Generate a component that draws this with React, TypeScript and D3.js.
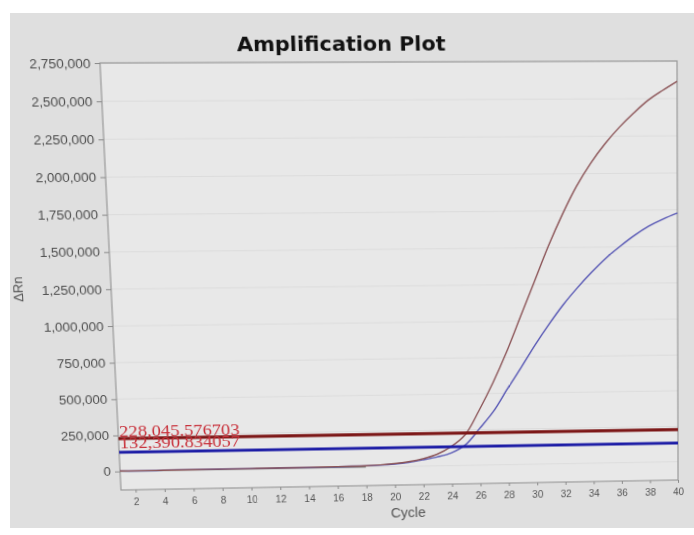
import React, { useEffect, useRef } from "react";
import * as d3 from "d3";

const cycles = [
  1, 2, 3, 4, 5, 6, 7, 8, 9, 10, 11, 12, 13, 14, 15, 16, 17, 18, 19, 20,
  21, 22, 23, 24, 25, 26, 27, 28, 29, 30, 31, 32, 33, 34, 35, 36, 37, 38, 39, 40,
];

// well 1 (red trace)
const redRn = [
  3000, 2000, 2000, 2500, 3000, 3000, 3500, 3500, 4000, 4000,
  4500, 5000, 5000, 5500, 6000, 7000, 8000, 10000, 14000, 21000,
  33000, 52000, 82000, 135000, 217000, 385000, 575000, 790000, 1030000, 1270000,
  1510000, 1725000, 1915000, 2070000, 2200000, 2310000, 2405000, 2490000, 2555000, 2615000,
];

// well 2 (blue trace)
const blueRn = [
  2000, 1500, 1500, 2000, 2500, 2500, 3000, 3000, 3500, 3500,
  4000, 4500, 4500, 5000, 5500, 6500, 7500, 9000, 12000, 18000,
  28000, 44000, 63000, 90000, 145000, 256000, 375000, 530000, 680000, 835000,
  978000, 1110000, 1225000, 1330000, 1425000, 1505000, 1578000, 1640000, 1688000, 1728000,
];

const thresholds = [228045.576703, 132390.834057];
const thresholdLabels = ["228,045.576703", "132,390.834057"];

const yTicks = [0, 250000, 500000, 750000, 1000000, 1250000, 1500000, 1750000, 2000000, 2250000, 2500000, 2750000];
const xTicks = [2, 4, 6, 8, 10, 12, 14, 16, 18, 20, 22, 24, 26, 28, 30, 32, 34, 36, 38, 40];

// photo of a monitor: the flat plot rectangle is warped onto this quad
function homography(src: number[][], dst: number[][]) {
  const A: number[][] = [];
  const b: number[] = [];
  for (let i = 0; i < 4; i++) {
    const [x, y] = src[i];
    const [u, v] = dst[i];
    A.push([x, y, 1, 0, 0, 0, -x * u, -y * u]);
    b.push(u);
    A.push([0, 0, 0, x, y, 1, -x * v, -y * v]);
    b.push(v);
  }
  const n = 8;
  for (let c = 0; c < n; c++) {
    let p = c;
    for (let r = c + 1; r < n; r++) if (Math.abs(A[r][c]) > Math.abs(A[p][c])) p = r;
    [A[c], A[p]] = [A[p], A[c]];
    [b[c], b[p]] = [b[p], b[c]];
    for (let r = 0; r < n; r++) {
      if (r === c) continue;
      const f = A[r][c] / A[c][c];
      for (let k = c; k < n; k++) A[r][k] -= f * A[c][k];
      b[r] -= f * b[c];
    }
  }
  const h = b.map((v, i) => v / A[i][i]);
  const [a, bb, c, d, e, f, g, hh] = h;
  return `matrix3d(${a},${d},0,${g},${bb},${e},0,${hh},0,0,1,0,${c},${f},0,1)`;
}

const App = () => {
  const svgRef = useRef<SVGSVGElement | null>(null);

  const width = 694;
  const height = 535;
  const margin = { top: 62, right: 16, bottom: 45, left: 121 };
  const pw = width - margin.left - margin.right;
  const ph = height - margin.top - margin.bottom;

  const warp = homography(
    [
      [margin.left, margin.top],
      [margin.left + pw, margin.top],
      [margin.left, margin.top + ph],
      [margin.left + pw, margin.top + ph],
    ],
    [
      [100, 63],
      [677, 61],
      [121, 490],
      [678, 480],
    ]
  );

  useEffect(() => {
    const svg = d3.select(svgRef.current);
    svg.selectAll("*").remove();

    const x = d3.scaleLinear().domain([1, 40]).range([margin.left, margin.left + pw]);
    const y = d3.scaleLinear().domain([-130000, 2750000]).range([margin.top + ph, margin.top]);

    // plot background
    svg.append("rect")
      .attr("x", margin.left)
      .attr("y", margin.top)
      .attr("width", pw)
      .attr("height", ph)
      .attr("fill", "#e8e8e8");

    // faint grid
    svg.append("g")
      .selectAll("line")
      .data(yTicks)
      .enter()
      .append("line")
      .attr("x1", margin.left)
      .attr("x2", margin.left + pw)
      .attr("y1", (d) => y(d))
      .attr("y2", (d) => y(d))
      .attr("stroke", "#dcdcdc")
      .attr("stroke-width", 1);

    // frame
    svg.append("rect")
      .attr("x", margin.left)
      .attr("y", margin.top)
      .attr("width", pw)
      .attr("height", ph)
      .attr("fill", "none")
      .attr("stroke", "#9a9a9a")
      .attr("stroke-width", 1.2);

    // y axis
    const yAxis = svg.append("g")
      .attr("transform", `translate(${margin.left},0)`)
      .call(d3.axisLeft(y).tickValues(yTicks).tickFormat(d3.format(",")).tickSize(5).tickPadding(4));
    yAxis.select(".domain").remove();
    yAxis.selectAll("line").attr("stroke", "#8a8a8a");
    yAxis.selectAll("text")
      .attr("font-family", "Liberation Sans, Arial, sans-serif")
      .attr("font-size", 13)
      .attr("fill", "#4e4e4e");

    // x axis
    const xAxis = svg.append("g")
      .attr("transform", `translate(0,${margin.top + ph})`)
      .call(d3.axisBottom(x).tickValues(xTicks).tickSize(3).tickPadding(6));
    xAxis.select(".domain").remove();
    xAxis.selectAll("line").attr("stroke", "#8a8a8a");
    xAxis.selectAll("text")
      .attr("font-family", "Liberation Sans, Arial, sans-serif")
      .attr("font-size", 10)
      .attr("fill", "#555");

    // baseline at zero
    svg.append("line")
      .attr("x1", margin.left)
      .attr("x2", x(18))
      .attr("y1", y(0))
      .attr("y2", y(0))
      .attr("stroke", "#6a6a6a")
      .attr("stroke-width", 1);

    const line = (vals: number[]) =>
      d3.line<number>()
        .x((_, i) => x(cycles[i]))
        .y((d) => y(d))
        .curve(d3.curveCatmullRom.alpha(0.5))(vals);

    svg.append("path")
      .attr("d", line(blueRn))
      .attr("fill", "none")
      .attr("stroke", "#5656b4")
      .attr("stroke-width", 1.4);

    svg.append("path")
      .attr("d", line(redRn))
      .attr("fill", "none")
      .attr("stroke", "#8c5558")
      .attr("stroke-width", 1.4);

    // threshold lines
    const thColors = ["#7c1717", "#1d1da6"];
    thresholds.forEach((t, i) => {
      svg.append("line")
        .attr("x1", margin.left)
        .attr("x2", margin.left + pw)
        .attr("y1", y(t))
        .attr("y2", y(t))
        .attr("stroke", thColors[i])
        .attr("stroke-width", 3.2);
    });

    thresholdLabels.forEach((t, i) => {
      svg.append("text")
        .attr("x", margin.left + 1)
        .attr("y", y(thresholds[i]) - (i === 0 ? 2 : 4))
        .attr("font-family", "Liberation Serif, Times New Roman, serif")
        .attr("font-size", 16)
        .attr("textLength", 118)
        .attr("lengthAdjust", "spacingAndGlyphs")
        .attr("fill", "#c8303a")
        .text(t);
    });

    // title & labels
    svg.append("text")
      .attr("x", 352)
      .attr("y", 51)
      .attr("text-anchor", "middle")
      .attr("font-family", "DejaVu Sans, Verdana, sans-serif")
      .attr("font-weight", "bold")
      .attr("font-size", 20)
      .attr("fill", "#111")
      .text("Amplification Plot");

    svg.append("text")
      .attr("transform", `translate(36,${margin.top + ph / 2 + 8}) rotate(-90)`)
      .attr("text-anchor", "middle")
      .attr("font-family", "Liberation Sans, Arial, sans-serif")
      .attr("font-size", 13)
      .attr("fill", "#555")
      .text("ΔRn");

    svg.append("text")
      .attr("x", 405)
      .attr("y", 524)
      .attr("text-anchor", "middle")
      .attr("font-family", "Liberation Sans, Arial, sans-serif")
      .attr("font-size", 14)
      .attr("fill", "#555")
      .text("Cycle");
  }, []);

  return (
    <div style={{ position: "fixed", left: 0, top: 0, width, height, background: "#fff", overflow: "hidden" }}>
      <div style={{ position: "absolute", left: 10, top: 13, width: 684, height: 515, background: "#dfdfdf" }} />
      <svg
        ref={svgRef}
        width={width}
        height={height}
        style={{ position: "absolute", left: 0, top: 0, transformOrigin: "0 0", transform: warp }}
      ></svg>
    </div>
  );
};

export default App;
